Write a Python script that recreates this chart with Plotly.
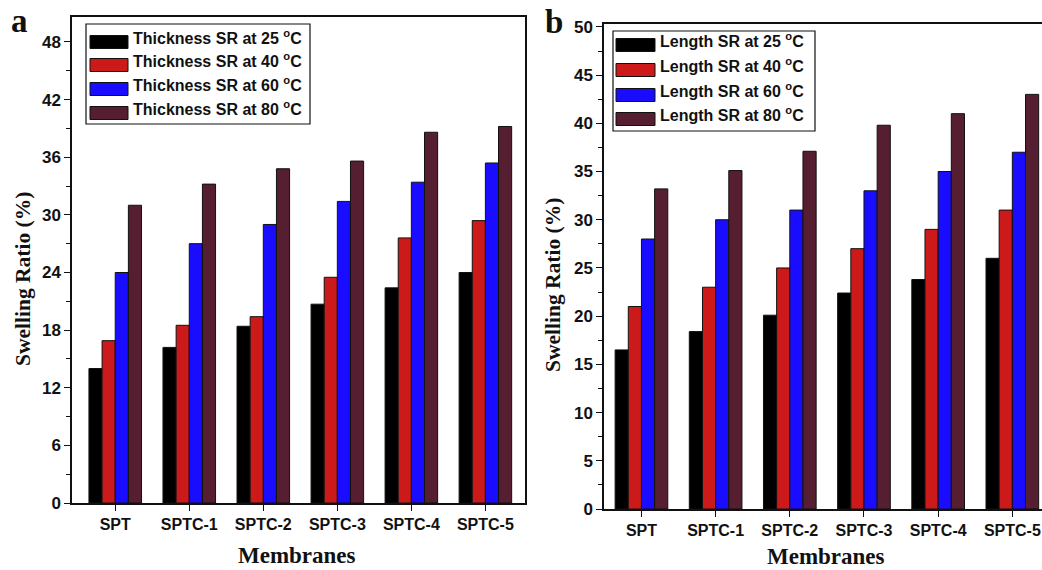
import plotly.graph_objects as go

membranes = ["SPT", "SPTC-1", "SPTC-2", "SPTC-3", "SPTC-4", "SPTC-5"]
temps = ["25", "40", "60", "80"]
colors = ["#000000", "#CC1A1A", "#1A0DFF", "#561E31"]

thickness_25 = [14.0, 16.2, 18.4, 20.7, 22.4, 24.0]
thickness_40 = [16.9, 18.5, 19.4, 23.5, 27.6, 29.4]
thickness_60 = [24.0, 27.0, 29.0, 31.4, 33.4, 35.4]
thickness_80 = [31.0, 33.2, 34.8, 35.6, 38.6, 39.2]

length_25 = [16.5, 18.4, 20.1, 22.4, 23.8, 26.0]
length_40 = [21.0, 23.0, 25.0, 27.0, 29.0, 31.0]
length_60 = [28.0, 30.0, 31.0, 33.0, 35.0, 37.0]
length_80 = [33.2, 35.1, 37.1, 39.8, 41.0, 43.0]

thick_series = [thickness_25, thickness_40, thickness_60, thickness_80]
len_series = [length_25, length_40, length_60, length_80]

W, H = 1042, 570
def px(x):
    return x / W
def py(y):
    return 1 - y / H

fig = go.Figure()
for i, (vals, c) in enumerate(zip(thick_series, colors)):
    fig.add_trace(go.Bar(x=membranes, y=vals, marker=dict(color=c, line=dict(color="#111111", width=1)),
                         xaxis="x", yaxis="y", showlegend=False, offsetgroup=str(i)))
for i, (vals, c) in enumerate(zip(len_series, colors)):
    fig.add_trace(go.Bar(x=membranes, y=vals, marker=dict(color=c, line=dict(color="#111111", width=1)),
                         xaxis="x2", yaxis="y2", showlegend=False, offsetgroup=str(i)))

tickfont = dict(family="Liberation Sans, Arial", size=17, color="#111111", weight="bold")
xtickfont = dict(family="Liberation Sans, Arial", size=16, color="#111111", weight="bold")
axcommon = dict(showline=True, linecolor="#111111", linewidth=1.5, showgrid=False, zeroline=False,
                ticks="outside", tickcolor="#111111", ticklen=6, tickwidth=1, automargin=False)

fig.update_layout(
    template="none",
    width=W, height=H,
    margin=dict(l=0, r=0, t=0, b=0),
    paper_bgcolor="white", plot_bgcolor="white",
    barmode="group", bargap=0.29, bargroupgap=0,
    xaxis=dict(domain=[px(72), px(525)], anchor="y", range=[-0.584, 5.535], mirror=True,
               tickfont=xtickfont, **axcommon),
    yaxis=dict(domain=[py(503), py(17)], anchor="x", range=[0, 50.6], dtick=6, tick0=0, mirror=True,
               tickfont=tickfont, minor=dict(ticks="outside", ticklen=4, dtick=3, tickcolor="#111111"),
               **axcommon),
    xaxis2=dict(domain=[px(604), 1.0], anchor="y2", range=[-0.505, 5.40], mirror=True,
                tickfont=xtickfont, **axcommon),
    yaxis2=dict(domain=[py(509), py(24)], anchor="x2", range=[0, 50.3], dtick=5, tick0=0, mirror=False,
                tickfont=tickfont, minor=dict(ticks="outside", ticklen=4, dtick=2.5, tickcolor="#111111"),
                **axcommon),
)

serif = "Liberation Serif, Times New Roman, serif"
ann = []
def add_text(x, y, text, size, family=serif, angle=0):
    ann.append(dict(x=px(x), y=py(y), xref="paper", yref="paper", xanchor="center", yanchor="middle",
                    text=text, textangle=angle, showarrow=False,
                    font=dict(family=family, size=size, color="#111111")))

# axis titles
add_text(23, 279, "<b>Swelling Ratio (%)</b>", 21.5, angle=-90)
add_text(553, 285, "<b>Swelling Ratio (%)</b>", 21.5, angle=-90)
add_text(297, 555, "<b>Membranes</b>", 23)
add_text(826, 556, "<b>Membranes</b>", 23)
# panel letters
add_text(19, 21, "<b>a</b>", 33)
add_text(554, 22, "<b>b</b>", 33)

shapes = []
def legend(box, sw_x0, sw_x1, text_x, rows, label):
    x0, y0, x1, y1 = box
    shapes.append(dict(type="rect", xref="paper", yref="paper", x0=px(x0), x1=px(x1), y0=py(y1), y1=py(y0),
                       line=dict(color="#111111", width=1.2), fillcolor="white", layer="above"))
    for t, c, ry in zip(temps, colors, rows):
        shapes.append(dict(type="rect", xref="paper", yref="paper", x0=px(sw_x0), x1=px(sw_x1),
                           y0=py(ry + 6.5), y1=py(ry - 6.5), line=dict(color="#111111", width=1),
                           fillcolor=c, layer="above"))
        ann.append(dict(x=px(text_x), y=py(ry), xref="paper", yref="paper", xanchor="left", yanchor="middle",
                        yshift=5,
                        text=f"<b>{label} SR at {t} <sup>o</sup>C</b>", showarrow=False,
                        font=dict(family="Liberation Sans, Arial", size=16, color="#111111")))

legend((86, 24, 310, 124), 90, 128, 131, [42, 65, 89, 113], "Thickness")
legend((613, 31, 815, 131), 616, 655, 658, [45, 70, 95, 119], "Length")

fig.update_layout(annotations=ann, shapes=shapes)
fig.write_html("out.html")
